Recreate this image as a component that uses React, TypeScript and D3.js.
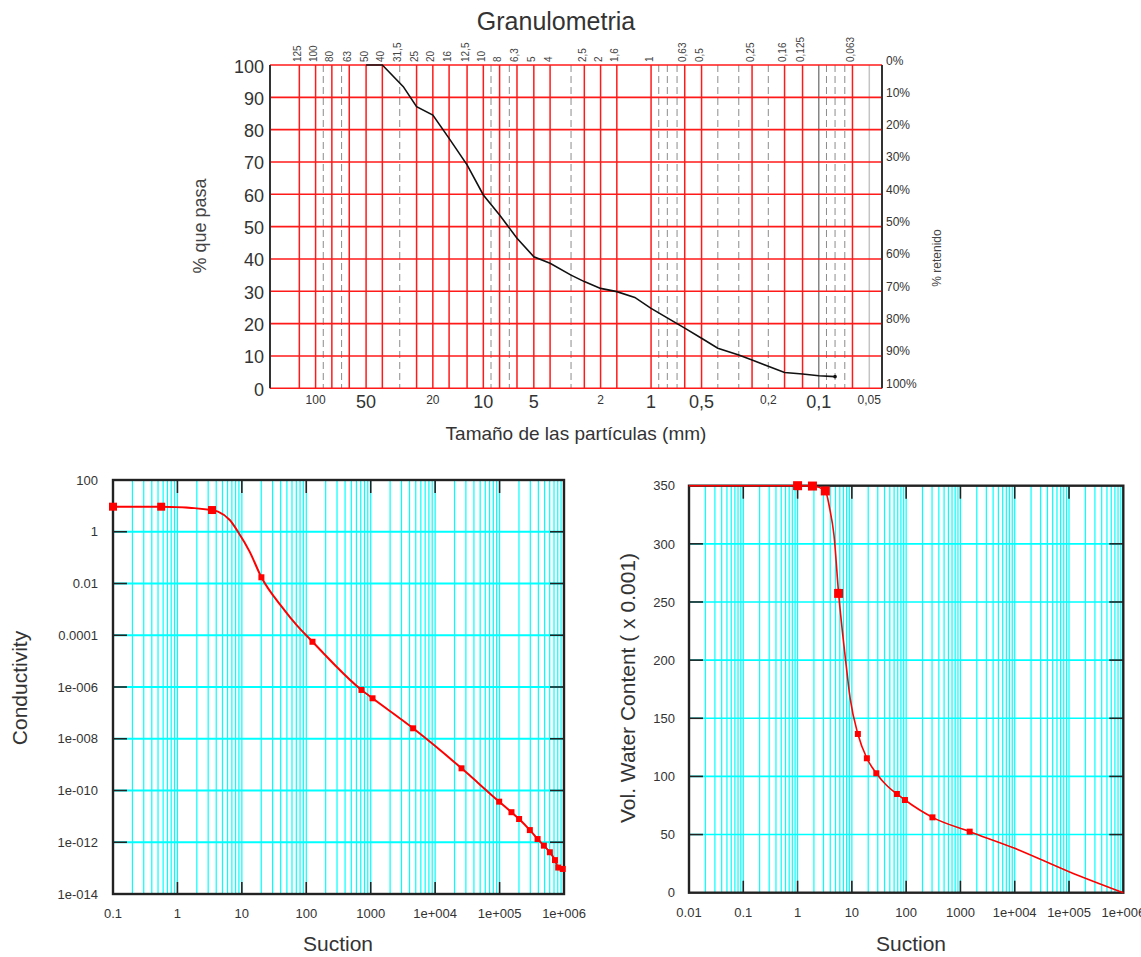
import React, { useRef, useEffect } from 'react';
import * as d3 from 'd3';

const FONT = '"Liberation Sans", Arial, Helvetica, sans-serif';

// ---------- Granulometria ----------
const sieveRed = [125, 100, 80, 63, 50, 40, 25, 20, 16, 12.5, 10, 8, 6.3, 5, 4, 2.5, 2, 1.6, 1, 0.63, 0.5, 0.25, 0.16, 0.125, 0.063];
const sieveDashed = [90, 70, 31.5, 9, 7, 3, 0.9, 0.8, 0.7, 0.4, 0.3, 0.2, 0.09, 0.08, 0.07];
const sieveGrayDark = [0.1];
const sieveGrayLight = [0.05];
const sieveTopLabels = [125, 100, 80, 63, 50, 40, 31.5, 25, 20, 16, 12.5, 10, 8, 6.3, 5, 4, 2.5, 2, 1.6, 1, 0.63, 0.5, 0.25, 0.16, 0.125, 0.063];
const sizeLabelsBig = [50, 10, 5, 1, 0.5, 0.1];
const sizeLabelsSmall = [100, 20, 2, 0.2, 0.05];
const passTicks = [0, 10, 20, 30, 40, 50, 60, 70, 80, 90, 100];

const granSize = [50, 40, 30, 25, 20, 16, 12.5, 10, 8, 6.3, 5, 4, 3, 2.5, 2, 1.6, 1.25, 1, 0.63, 0.5, 0.4, 0.3, 0.25, 0.16, 0.125, 0.1, 0.08];
const granPass = [100, 100, 93.3, 87.1, 84.5, 77.3, 69.1, 59.8, 53.6, 46.4, 40.7, 38.7, 35, 33, 30.9, 29.9, 28.1, 24.7, 18.6, 15.5, 12.4, 10.3, 8.75, 4.9, 4.4, 3.9, 3.6];

// ---------- Conductivity ----------
const condSuction = [0.1, 0.56, 3.44, 4.26, 6.5, 8.7, 13.2, 20.1, 43.6, 70.4, 124.8, 719, 1067, 4550, 25700, 98600, 153000, 201000, 295000, 389000, 487000, 603000, 724000, 813000, 955000];
const condK = [9.3, 9.3, 6.9, 5.96, 2.84, 1.0, 0.17, 0.0174, 1.1e-3, 2.5e-4, 5.6e-5, 7.7e-7, 3.66e-7, 2.53e-8, 7.2e-10, 3.7e-11, 1.45e-11, 7.9e-12, 2.95e-12, 1.33e-12, 7.4e-13, 4.1e-13, 2.04e-13, 1.05e-13, 9.3e-14];
const condMarkSuction = [0.1, 0.56, 3.44, 20.1, 124.8, 719, 1067, 4550, 25700, 98600, 153000, 201000, 295000, 389000, 487000, 603000, 724000, 813000, 955000];
const condMarkK = [9.3, 9.3, 6.9, 0.0174, 5.6e-5, 7.7e-7, 3.66e-7, 2.53e-8, 7.2e-10, 3.7e-11, 1.45e-11, 7.9e-12, 2.95e-12, 1.33e-12, 7.4e-13, 4.1e-13, 2.04e-13, 1.05e-13, 9.3e-14];
const condXTicks = [0.1, 1, 10, 100, 1000, 1e4, 1e5, 1e6];
const condXLabels = ['0.1', '1', '10', '100', '1000', '1e+004', '1e+005', '1e+006'];
const condYTicks = [100, 1, 0.01, 1e-4, 1e-6, 1e-8, 1e-10, 1e-12, 1e-14];
const condYLabels = ['100', '1', '0.01', '0.0001', '1e-006', '1e-008', '1e-010', '1e-012', '1e-014'];

// ---------- Vol. water content ----------
const wcSuction = [0.01, 1, 1.88, 3.24, 3.9, 4.68, 5.7, 7.6, 9.3, 12.9, 18.9, 28.2, 43, 67.6, 95, 305, 1480, 1e4, 1e5, 1e6];
const wcValue = [350, 350, 349.7, 345.5, 330.5, 307.6, 257.4, 201.5, 167.2, 136.5, 115.6, 102.7, 92.6, 84.9, 79.7, 64.8, 52.5, 38.2, 18.1, 0];
const wcMarkSuction = [1, 1.88, 3.24, 5.7, 12.9, 18.9, 28.2, 67.6, 95, 305, 1480];
const wcMarkValue = [350, 349.7, 345.5, 257.4, 136.5, 115.6, 102.7, 84.9, 79.7, 64.8, 52.5];
const wcXTicks = [0.01, 0.1, 1, 10, 100, 1000, 1e4, 1e5, 1e6];
const wcXLabels = ['0.01', '0.1', '1', '10', '100', '1000', '1e+004', '1e+005', '1e+006'];
const wcYTicks = [0, 50, 100, 150, 200, 250, 300, 350];

// every m*10^k strictly inside (lo, hi)
const logGrid = (lo: number, hi: number) => {
  const out: number[] = [];
  for (let e = Math.floor(Math.log10(lo)); e <= Math.ceil(Math.log10(hi)); e++) {
    for (let m = 1; m <= 9; m++) {
      const v = m * Math.pow(10, e);
      if (v > lo * 1.0001 && v < hi * 0.9999) out.push(v);
    }
  }
  return out;
};

const label = (v: number) => String(v).replace('.', ',');

const CYAN = '#00ffff';

const App = () => {
  const svgRef = useRef<SVGSVGElement>(null);

  useEffect(() => {
    const svg = d3.select(svgRef.current);
    svg.selectAll('*').remove();
    svg.attr('font-family', FONT);

    // ================= Granulometria =================
    {
      const left = 270, right = 882, top = 65, bottom = 388.3;
      const x = d3.scaleLog().domain([187, 0.042]).range([left, right]);
      const y = d3.scaleLinear().domain([0, 100]).range([bottom, top]);
      const g = svg.append('g');

      g.append('text').attr('x', 556).attr('y', 30).attr('text-anchor', 'middle')
        .attr('font-size', 25).attr('fill', '#333').text('Granulometria');

      g.selectAll('.dash').data(sieveDashed).join('line')
        .attr('x1', d => x(d)).attr('x2', d => x(d)).attr('y1', top).attr('y2', bottom)
        .attr('stroke', '#8c8c8c').attr('stroke-width', 1).attr('stroke-dasharray', '7,4');

      g.selectAll('.gd').data(sieveGrayDark).join('line')
        .attr('x1', d => x(d)).attr('x2', d => x(d)).attr('y1', top).attr('y2', bottom)
        .attr('stroke', '#666').attr('stroke-width', 1.2);
      g.selectAll('.gl').data(sieveGrayLight).join('line')
        .attr('x1', d => x(d)).attr('x2', d => x(d)).attr('y1', top).attr('y2', bottom)
        .attr('stroke', '#c4c4c4').attr('stroke-width', 1.5);

      g.selectAll('.red').data(sieveRed).join('line')
        .attr('x1', d => x(d)).attr('x2', d => x(d)).attr('y1', top).attr('y2', bottom)
        .attr('stroke', '#ff1a1a').attr('stroke-width', 1.5);

      g.selectAll('.hred').data(passTicks).join('line')
        .attr('x1', left).attr('x2', right).attr('y1', d => y(d)).attr('y2', d => y(d))
        .attr('stroke', '#ff1a1a').attr('stroke-width', 1.6);

      g.append('line').attr('x1', left).attr('x2', left).attr('y1', top).attr('y2', bottom)
        .attr('stroke', '#333').attr('stroke-width', 2);
      g.append('line').attr('x1', right).attr('x2', right).attr('y1', top).attr('y2', bottom)
        .attr('stroke', '#333').attr('stroke-width', 2);

      // top sieve labels (rotated)
      g.selectAll('.tl').data(sieveTopLabels).join('text')
        .attr('transform', d => `translate(${x(d) + 1.5},62) rotate(-90)`)
        .attr('font-size', 10).attr('fill', '#444').text(d => label(d));

      // bottom size labels
      g.selectAll('.bb').data(sizeLabelsBig).join('text')
        .attr('x', d => x(d)).attr('y', 408).attr('text-anchor', 'middle')
        .attr('font-size', 18).attr('fill', '#333').text(d => label(d));
      g.selectAll('.bs').data(sizeLabelsSmall).join('text')
        .attr('x', d => x(d)).attr('y', 404).attr('text-anchor', 'middle')
        .attr('font-size', 12).attr('fill', '#333').text(d => label(d));

      // left % que pasa labels
      g.selectAll('.yl').data(passTicks).join('text')
        .attr('x', 264).attr('y', d => y(d) + 7.5).attr('text-anchor', 'end')
        .attr('font-size', 18).attr('fill', '#333').text(d => d);
      // right % retenido labels
      g.selectAll('.yr').data(passTicks).join('text')
        .attr('x', 886).attr('y', d => y(d) - 0.5)
        .attr('font-size', 12).attr('fill', '#333').text(d => `${100 - d}%`);

      g.append('text').attr('transform', 'translate(206,226) rotate(-90)').attr('text-anchor', 'middle')
        .attr('font-size', 18).attr('fill', '#444').text('% que pasa');
      g.append('text').attr('transform', 'translate(941,258) rotate(-90)').attr('text-anchor', 'middle')
        .attr('font-size', 12).attr('fill', '#444').text('% retenido');
      g.append('text').attr('x', 576).attr('y', 440).attr('text-anchor', 'middle')
        .attr('font-size', 19).attr('fill', '#333').text('Tamaño de las partículas (mm)');

      const line = d3.line<number>().x((d, i) => x(granSize[i])).y(d => y(d));
      g.append('path').datum(granPass).attr('d', line)
        .attr('fill', 'none').attr('stroke', '#111').attr('stroke-width', 1.6);
      g.append('circle').attr('cx', x(granSize[granSize.length - 1])).attr('cy', y(granPass[granPass.length - 1]))
        .attr('r', 1.8).attr('fill', '#111');
    }

    // shared drawing for the two log-x plots
    const drawFrame = (g: any, x: any, y: any, L: number, R: number, T: number, B: number,
      xTicks: number[], yTicks: number[]) => {
      // ticks (inward)
      xTicks.filter(v => x(v) > L + 1 && x(v) < R - 1).forEach(v => {
        g.append('line').attr('x1', x(v)).attr('x2', x(v)).attr('y1', T).attr('y2', T + 13)
          .attr('stroke', '#222').attr('stroke-width', 1.6);
        g.append('line').attr('x1', x(v)).attr('x2', x(v)).attr('y1', B).attr('y2', B - 12)
          .attr('stroke', '#222').attr('stroke-width', 1.6);
      });
      yTicks.filter(v => y(v) > T + 1 && y(v) < B - 1).forEach(v => {
        g.append('line').attr('x1', L).attr('x2', L + 14).attr('y1', y(v)).attr('y2', y(v))
          .attr('stroke', '#222').attr('stroke-width', 1.6);
        g.append('line').attr('x1', R).attr('x2', R - 14).attr('y1', y(v)).attr('y2', y(v))
          .attr('stroke', '#222').attr('stroke-width', 1.6);
      });
      g.append('rect').attr('x', L).attr('y', T).attr('width', R - L).attr('height', B - T)
        .attr('fill', 'none').attr('stroke', '#222').attr('stroke-width', 2.4);
    };

    // ================= Conductivity =================
    {
      const L = 113, R = 564, T = 480, B = 894;
      const x = d3.scaleLog().domain([0.1, 1e6]).range([L, R]);
      const y = d3.scaleLog().domain([1e-14, 100]).range([B, T]);
      const g = svg.append('g');

      g.selectAll('.vg').data(logGrid(0.1, 1e6)).join('line')
        .attr('x1', d => x(d)).attr('x2', d => x(d)).attr('y1', T).attr('y2', B)
        .attr('stroke', CYAN).attr('stroke-width', 1.2);
      g.selectAll('.hg').data(condYTicks.slice(1, -1)).join('line')
        .attr('x1', L).attr('x2', R).attr('y1', d => y(d)).attr('y2', d => y(d))
        .attr('stroke', CYAN).attr('stroke-width', 2);

      drawFrame(g, x, y, L, R, T, B, condXTicks, condYTicks);

      g.selectAll('.yl').data(condYTicks).join('text')
        .attr('x', 98).attr('y', d => y(d) + 4.7).attr('text-anchor', 'end')
        .attr('font-size', 13).attr('fill', '#333').text((d, i) => condYLabels[i]);
      g.selectAll('.xl').data(condXTicks).join('text')
        .attr('x', d => x(d)).attr('y', 918).attr('text-anchor', 'middle')
        .attr('font-size', 13).attr('fill', '#333').text((d, i) => condXLabels[i]);

      g.append('text').attr('x', 338).attr('y', 951).attr('text-anchor', 'middle')
        .attr('font-size', 21).attr('fill', '#333').text('Suction');
      g.append('text').attr('transform', 'translate(27,688) rotate(-90)').attr('text-anchor', 'middle')
        .attr('font-size', 21).attr('fill', '#333').text('Conductivity');

      const line = d3.line<number>().x((d, i) => x(condSuction[i])).y(d => y(d)).curve(d3.curveMonotoneX);
      g.append('path').datum(condK).attr('d', line)
        .attr('fill', 'none').attr('stroke', '#ff0000').attr('stroke-width', 2);
      g.selectAll('.mk').data(condMarkK).join('rect')
        .attr('x', (d, i) => x(condMarkSuction[i]) - (i < 3 ? 4 : 3))
        .attr('y', (d, i) => y(d) - (i < 3 ? 4 : 3))
        .attr('width', (d, i) => (i < 3 ? 8 : 6)).attr('height', (d, i) => (i < 3 ? 8 : 6))
        .attr('fill', '#ff0000');
    }

    // ================= Vol. Water Content =================
    {
      const L = 689, R = 1123.3, T = 485.7, B = 892.7;
      const x = d3.scaleLog().domain([0.01, 1e6]).range([L, R]);
      const y = d3.scaleLinear().domain([0, 350]).range([B, T]);
      const g = svg.append('g');

      g.selectAll('.vg').data(logGrid(0.01, 1e6)).join('line')
        .attr('x1', d => x(d)).attr('x2', d => x(d)).attr('y1', T).attr('y2', B)
        .attr('stroke', CYAN).attr('stroke-width', 1.2);
      g.selectAll('.hg').data(wcYTicks.slice(1, -1)).join('line')
        .attr('x1', L).attr('x2', R).attr('y1', d => y(d)).attr('y2', d => y(d))
        .attr('stroke', CYAN).attr('stroke-width', 1.6);

      drawFrame(g, x, y, L, R, T, B, wcXTicks, wcYTicks);

      g.selectAll('.yl').data(wcYTicks).join('text')
        .attr('x', 675).attr('y', d => y(d) + 4.7).attr('text-anchor', 'end')
        .attr('font-size', 13).attr('fill', '#333').text(d => d);
      g.selectAll('.xl').data(wcXTicks).join('text')
        .attr('x', d => x(d)).attr('y', 916.5).attr('text-anchor', 'middle')
        .attr('font-size', 13).attr('fill', '#333').text((d, i) => wcXLabels[i]);

      g.append('text').attr('x', 911).attr('y', 951).attr('text-anchor', 'middle')
        .attr('font-size', 21).attr('fill', '#333').text('Suction');
      g.append('text').attr('transform', 'translate(635,688) rotate(-90)').attr('text-anchor', 'middle')
        .attr('font-size', 21).attr('fill', '#333').text('Vol. Water Content ( x 0.001)');

      const line = d3.line<number>().x((d, i) => x(wcSuction[i])).y(d => y(d)).curve(d3.curveMonotoneX);
      g.append('path').datum(wcValue).attr('d', line)
        .attr('fill', 'none').attr('stroke', '#ff0000').attr('stroke-width', 1.6);
      g.selectAll('.mk').data(wcMarkValue).join('rect')
        .attr('x', (d, i) => x(wcMarkSuction[i]) - (i < 4 ? 4.5 : 3))
        .attr('y', (d, i) => y(d) - (i < 4 ? 4.5 : 3))
        .attr('width', (d, i) => (i < 4 ? 9 : 6)).attr('height', (d, i) => (i < 4 ? 9 : 6))
        .attr('fill', '#ff0000');
    }
  }, []);

  return (
    <svg
      ref={svgRef}
      width={1141}
      height={957}
      style={{ position: 'absolute', left: 0, top: 0, background: '#fff', display: 'block' }}
    />
  );
};

export default App;
